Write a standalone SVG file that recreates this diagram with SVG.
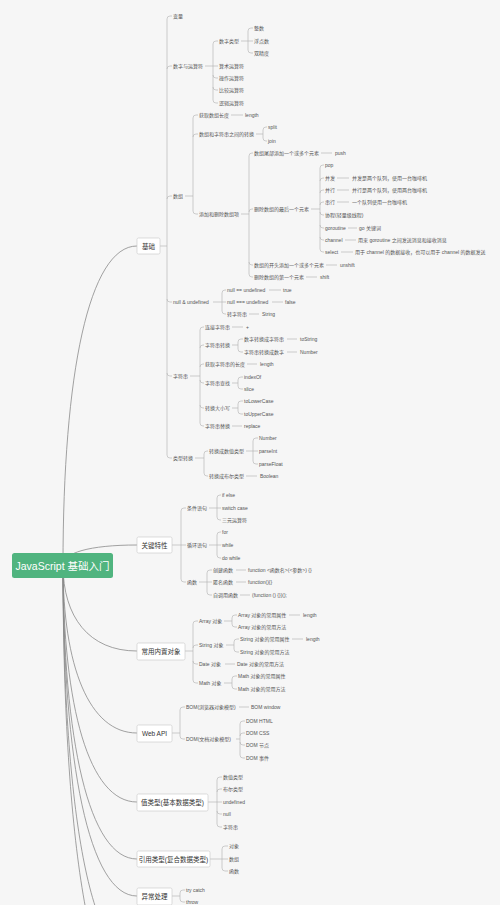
<svg xmlns="http://www.w3.org/2000/svg" width="500" height="905" viewBox="0 0 500 905">
<style>
text{font-family:"Liberation Sans","Noto Sans CJK SC",sans-serif;dominant-baseline:central}
.t{font-size:5px;fill:#555}
.l1{font-size:6.5px;fill:#333;text-anchor:middle}
.box{fill:#fff;stroke:#c8c8c8;stroke-width:0.6}
.ln{fill:none;stroke:#b0b0b0;stroke-width:0.6}
.rc{fill:none;stroke:#8a8a8a;stroke-width:0.8}
</style>
<rect x="0" y="0" width="500" height="905" fill="#f6f6f6"/>
<g id="connectors">
<g class="rc">
<path d="M63,565 C63,374 89,246 137,246"/>
<path d="M63,565 C63,553 89,545 137,545"/>
<path d="M63,565 C63,617 89,651 137,651"/>
<path d="M63,565 C63,666 89,733 137,733"/>
<path d="M63,565 C63,707 89,802 137,802"/>
<path d="M63,565 C63,741 89,859 137,859"/>
<path d="M63,565 C63,763 89,896 137,896"/>
<path d="M63,565 C63,802 89,960 137,960"/>
<path d="M63,565 C63,832 89,1010 137,1010"/>
</g>
<g class="ln">
<path d="M160,246 H167 M167,19 V455 M167,19 Q167,16 170,16 H172 M167,69 Q167,66 170,66 H172 M167,199 Q167,196 170,196 H172 M167,299 Q167,302 170,302 H172 M167,373 Q167,376 170,376 H172 M167,455 Q167,458 170,458 H172"/>
<path d="M205,66 H213 M213,44 V100 M213,44 Q213,41 216,41 H218 M213,66 H218 M213,75 Q213,78 216,78 H218 M213,87 Q213,90 216,90 H218 M213,100 Q213,103 216,103 H218"/>
<path d="M241,41 H248 M248,31 V50 M248,31 Q248,28 251,28 H253 M248,41 H253 M248,50 Q248,53 251,53 H253"/>
<path d="M185,196 H193 M193,118 V211 M193,118 Q193,115 196,115 H198 M193,137 Q193,134 196,134 H198 M193,211 Q193,214 196,214 H198"/>
<path d="M231,115 H243"/>
<path d="M256,134 H263 M263,130 V138 M263,130 Q263,127 266,127 H267 M263,138 Q263,141 266,141 H267"/>
<path d="M241,214 H249 M249,156 V274 M249,156 Q249,153 252,153 H253 M249,212 Q249,209 252,209 H253 M249,262 Q249,265 252,265 H253 M249,274 Q249,277 252,277 H253"/>
<path d="M321,153 H332 M326,265 H337 M306,277 H317"/>
<path d="M311,209 H320 M320,168 V249 M320,168 Q320,165 323,165 H324 M320,181 Q320,178 323,178 H324 M320,193 Q320,190 323,190 H324 M320,205 Q320,202 323,202 H324 M320,212 Q320,215 323,215 H324 M320,225 Q320,228 323,228 H324 M320,237 Q320,240 323,240 H324 M320,249 Q320,252 323,252 H324"/>
<path d="M337,178 H349 M337,190 H349 M337,202 H349 M348,228 H357 M345,240 H356 M341,252 H353"/>
<path d="M213,302 H222 M222,293 V311 M222,293 Q222,290 225,290 H226 M222,302 H226 M222,311 Q222,314 225,314 H226"/>
<path d="M269,290 H281 M272,302 H283 M249,314 H259"/>
<path d="M190,376 H200 M200,330 V423 M200,330 Q200,327 203,327 H204 M200,348 Q200,345 203,345 H204 M200,367 Q200,364 203,364 H204 M200,380 Q200,383 203,383 H204 M200,405 Q200,408 203,408 H204 M200,423 Q200,426 203,426 H204"/>
<path d="M232,327 H243 M247,364 H257 M232,426 H242"/>
<path d="M232,345 H238 M238,342 V349 M238,342 Q238,339 241,339 H243 M238,349 Q238,352 241,352 H243"/>
<path d="M287,339 H297 M287,352 H297"/>
<path d="M232,383 H238 M238,380 V386 M238,380 Q238,377 241,377 H243 M238,386 Q238,389 241,389 H243"/>
<path d="M232,408 H238 M238,404 V411 M238,404 Q238,401 241,401 H243 M238,411 Q238,414 241,414 H243"/>
<path d="M195,458 H204 M204,454 V473 M204,454 Q204,451 207,451 H208 M204,473 Q204,476 207,476 H208"/>
<path d="M246,451 H253 M253,441 V461 M253,441 Q253,438 256,438 H258 M253,451 H258 M253,461 Q253,464 256,464 H258"/>
<path d="M246,476 H257"/>
<path d="M172,545 H181 M181,511 V579 M181,511 Q181,508 184,508 H186 M181,545 H186 M181,579 Q181,582 184,582 H186"/>
<path d="M209,508 H217 M217,498 V517 M217,498 Q217,495 220,495 H221 M217,508 H221 M217,517 Q217,520 220,520 H221"/>
<path d="M209,545 H217 M217,535 V555 M217,535 Q217,532 220,532 H221 M217,545 H221 M217,555 Q217,558 220,558 H221"/>
<path d="M199,582 H207 M207,573 V592 M207,573 Q207,570 210,570 H212 M207,582 H212 M207,592 Q207,595 210,595 H212"/>
<path d="M236,570 H246 M236,582 H246 M240,595 H250"/>
<path d="M185,651 H193 M193,624 V680 M193,624 Q193,621 196,621 H198 M193,648 Q193,645 196,645 H198 M193,661 Q193,664 196,664 H198 M193,680 Q193,683 196,683 H198"/>
<path d="M224,621 H232 M232,618 V624 M232,618 Q232,615 235,615 H237 M232,624 Q232,627 235,627 H237"/>
<path d="M289,615 H300"/>
<path d="M226,645 H234 M234,642 V649 M234,642 Q234,639 237,639 H239 M234,649 Q234,652 237,652 H239"/>
<path d="M292,639 H303 M225,664 H235"/>
<path d="M224,683 H232 M232,679 V686 M232,679 Q232,676 235,676 H237 M232,686 Q232,689 235,689 H237"/>
<path d="M172,733 H180 M180,710 V736 M180,710 Q180,707 183,707 H185 M180,736 Q180,739 183,739 H185"/>
<path d="M239,707 H249"/>
<path d="M236,739 H240 M240,724 V755 M240,724 Q240,721 243,721 H245 M240,736 Q240,733 243,733 H245 M240,742 Q240,745 243,745 H245 M240,755 Q240,758 243,758 H245"/>
<path d="M208,802 H217 M217,780 V824 M217,780 Q217,777 220,777 H222 M217,792 Q217,789 220,789 H222 M217,802 H222 M217,811 Q217,814 220,814 H222 M217,824 Q217,827 220,827 H222"/>
<path d="M210,859 H222 M222,849 V868 M222,849 Q222,846 225,846 H228 M222,859 H228 M222,868 Q222,871 225,871 H228"/>
<path d="M172,896 H180 M180,893 V899 M180,893 Q180,890 183,890 H185 M180,899 Q180,902 183,902 H185"/>
</g>
</g>
<g id="root"><rect x="12" y="553" width="101" height="25" rx="2.5" fill="#50b47f"/><text x="62.5" y="565.5" font-size="10.5" fill="#fff" text-anchor="middle">JavaScript 基础入门</text></g>
<g id="n-jichu"><rect class="box" x="137" y="238" width="23" height="16" rx="1.5"/><text class="l1" x="148.5" y="246">基础</text></g>
<g id="n-guanjian"><rect class="box" x="137" y="537" width="35" height="16" rx="1.5"/><text class="l1" x="154.5" y="545">关键特性</text></g>
<g id="n-neizhi"><rect class="box" x="137" y="643" width="48" height="17" rx="1.5"/><text class="l1" x="161" y="651.5">常用内置对象</text></g>
<g id="n-webapi"><rect class="box" x="137" y="725" width="35" height="17" rx="1.5"/><text class="l1" x="154.5" y="733.5">Web API</text></g>
<g id="n-zhi"><rect class="box" x="137" y="794" width="71" height="17" rx="1.5"/><text class="l1" x="172.5" y="802.5">值类型(基本数据类型)</text></g>
<g id="n-yinyong"><rect class="box" x="137" y="851" width="73" height="16" rx="1.5"/><text class="l1" x="173.5" y="859">引用类型(复合数据类型)</text></g>
<g id="n-yichang"><rect class="box" x="137" y="888" width="35" height="17" rx="1.5"/><text class="l1" x="154.5" y="896.5">异常处理</text></g>
<g id="n-basics" class="t">
<g id="n1"><text x="173" y="16">变量</text></g>
<g id="n2"><text x="173" y="66">数字与运算符</text></g>
<g id="n3"><text x="219" y="41">数字类型</text></g>
<g id="n4"><text x="254" y="28">整数</text></g>
<g id="n5"><text x="254" y="41">浮点数</text></g>
<g id="n6"><text x="254" y="53">双精度</text></g>
<g id="n7"><text x="219" y="66">算术运算符</text></g>
<g id="n8"><text x="219" y="78">操作运算符</text></g>
<g id="n9"><text x="219" y="90">比较运算符</text></g>
<g id="n10"><text x="219" y="103">逻辑运算符</text></g>
<g id="n11"><text x="173" y="196">数组</text></g>
<g id="n12"><text x="199" y="115">获取数组长度</text></g>
<g id="n13"><text x="245" y="115">length</text></g>
<g id="n14"><text x="199" y="134">数组和字符串之间的转换</text></g>
<g id="n15"><text x="268" y="127">split</text></g>
<g id="n16"><text x="268" y="141">join</text></g>
<g id="n17"><text x="199" y="214">添加和删除数组项</text></g>
<g id="n18"><text x="254" y="153">数组尾部添加一个或多个元素</text></g>
<g id="n19"><text x="335" y="153">push</text></g>
<g id="n20"><text x="254" y="209">删除数组的最后一个元素</text></g>
<g id="n21"><text x="325" y="165">pop</text></g>
<g id="n22"><text x="325" y="178">并发</text></g>
<g id="n23"><text x="352" y="178">并发是两个队列，使用一台咖啡机</text></g>
<g id="n24"><text x="325" y="190">并行</text></g>
<g id="n25"><text x="352" y="190">并行是两个队列，使用两台咖啡机</text></g>
<g id="n26"><text x="325" y="202">串行</text></g>
<g id="n27"><text x="352" y="202">一个队列使用一台咖啡机</text></g>
<g id="n28"><text x="325" y="215">协程(轻量级线程)</text></g>
<g id="n29"><text x="325" y="228">goroutine</text></g>
<g id="n30"><text x="359" y="228">go 关键词</text></g>
<g id="n31"><text x="325" y="240">channel</text></g>
<g id="n32"><text x="358" y="240">用来 goroutine 之间发送消息和接收消息</text></g>
<g id="n33"><text x="325" y="252">select</text></g>
<g id="n34"><text x="355" y="252">用于 channel 的数据接收，也可以用于 channel 的数据发送</text></g>
<g id="n35"><text x="254" y="265">数组的开头添加一个或多个元素</text></g>
<g id="n36"><text x="340" y="265">unshift</text></g>
<g id="n37"><text x="254" y="277">删除数组的第一个元素</text></g>
<g id="n38"><text x="320" y="277">shift</text></g>
<g id="n39"><text x="173" y="302">null &amp; undefined</text></g>
<g id="n40"><text x="227" y="290">null == undefined</text></g>
<g id="n41"><text x="283" y="290">true</text></g>
<g id="n42"><text x="227" y="302">null === undefined</text></g>
<g id="n43"><text x="285" y="302">false</text></g>
<g id="n44"><text x="227" y="314">转字符串</text></g>
<g id="n45"><text x="262" y="314">String</text></g>
<g id="n46"><text x="173" y="376">字符串</text></g>
<g id="n47"><text x="205" y="327">连接字符串</text></g>
<g id="n48"><text x="246" y="327">+</text></g>
<g id="n49"><text x="205" y="345">字符串转换</text></g>
<g id="n50"><text x="244" y="339">数字转换成字符串</text></g>
<g id="n51"><text x="300" y="339">toString</text></g>
<g id="n52"><text x="244" y="352">字符串转换成数字</text></g>
<g id="n53"><text x="300" y="352">Number</text></g>
<g id="n54"><text x="205" y="364">获取字符串的长度</text></g>
<g id="n55"><text x="260" y="364">length</text></g>
<g id="n56"><text x="205" y="383">字符串查找</text></g>
<g id="n57"><text x="244" y="377">indexOf</text></g>
<g id="n58"><text x="244" y="389">slice</text></g>
<g id="n59"><text x="205" y="408">转换大小写</text></g>
<g id="n60"><text x="244" y="401">toLowerCase</text></g>
<g id="n61"><text x="244" y="414">toUpperCase</text></g>
<g id="n62"><text x="205" y="426">字符串替换</text></g>
<g id="n63"><text x="244" y="426">replace</text></g>
<g id="n64"><text x="173" y="458">类型转换</text></g>
<g id="n65"><text x="209" y="451">转换成数值类型</text></g>
<g id="n66"><text x="259" y="438">Number</text></g>
<g id="n67"><text x="259" y="451">parseInt</text></g>
<g id="n68"><text x="259" y="464">parseFloat</text></g>
<g id="n69"><text x="209" y="476">转换成布尔类型</text></g>
<g id="n70"><text x="260" y="476">Boolean</text></g>
</g>
<g id="n-key" class="t">
<g id="k1"><text x="187" y="508">条件语句</text></g>
<g id="k2"><text x="222" y="495">if else</text></g>
<g id="k3"><text x="222" y="508">switch case</text></g>
<g id="k4"><text x="222" y="520">三元运算符</text></g>
<g id="k5"><text x="187" y="545">循环语句</text></g>
<g id="k6"><text x="222" y="532">for</text></g>
<g id="k7"><text x="222" y="545">while</text></g>
<g id="k8"><text x="222" y="558">do while</text></g>
<g id="k9"><text x="187" y="582">函数</text></g>
<g id="k10"><text x="213" y="570">创建函数</text></g>
<g id="k11"><text x="248" y="570">function &lt;函数名&gt;(&lt;参数&gt;) {}</text></g>
<g id="k12"><text x="213" y="582">匿名函数</text></g>
<g id="k13"><text x="248" y="582">function(){}</text></g>
<g id="k14"><text x="213" y="595">自调用函数</text></g>
<g id="k15"><text x="252" y="595">(function () {})();</text></g>
</g>
<g id="n-obj" class="t">
<g id="o1"><text x="199" y="621">Array 对象</text></g>
<g id="o2"><text x="238" y="615">Array 对象的常用属性</text></g>
<g id="o3"><text x="303" y="615">length</text></g>
<g id="o4"><text x="238" y="627">Array 对象的常用方法</text></g>
<g id="o5"><text x="199" y="645">String 对象</text></g>
<g id="o6"><text x="240" y="639">String 对象的常用属性</text></g>
<g id="o7"><text x="306" y="639">length</text></g>
<g id="o8"><text x="240" y="652">String 对象的常用方法</text></g>
<g id="o9"><text x="199" y="664">Date 对象</text></g>
<g id="o10"><text x="237" y="664">Date 对象的常用方法</text></g>
<g id="o11"><text x="199" y="683">Math 对象</text></g>
<g id="o12"><text x="238" y="676">Math 对象的常用属性</text></g>
<g id="o13"><text x="238" y="689">Math 对象的常用方法</text></g>
</g>
<g id="n-web" class="t">
<g id="w1"><text x="186" y="707">BOM(浏览器对象模型)</text></g>
<g id="w2"><text x="251" y="707">BOM window</text></g>
<g id="w3"><text x="186" y="739">DOM(文档对象模型)</text></g>
<g id="w4"><text x="246" y="721">DOM HTML</text></g>
<g id="w5"><text x="246" y="733">DOM CSS</text></g>
<g id="w6"><text x="246" y="745">DOM 节点</text></g>
<g id="w7"><text x="246" y="758">DOM 事件</text></g>
</g>
<g id="n-types" class="t">
<g id="v1"><text x="223" y="777">数值类型</text></g>
<g id="v2"><text x="223" y="789">布尔类型</text></g>
<g id="v3"><text x="223" y="802">undefined</text></g>
<g id="v4"><text x="223" y="814">null</text></g>
<g id="v5"><text x="223" y="827">字符串</text></g>
<g id="r1"><text x="229" y="846">对象</text></g>
<g id="r2"><text x="229" y="859">数组</text></g>
<g id="r3"><text x="229" y="871">函数</text></g>
<g id="e1"><text x="186" y="890">try catch</text></g>
<g id="e2"><text x="186" y="902">throw</text></g>
</g>
</svg>
